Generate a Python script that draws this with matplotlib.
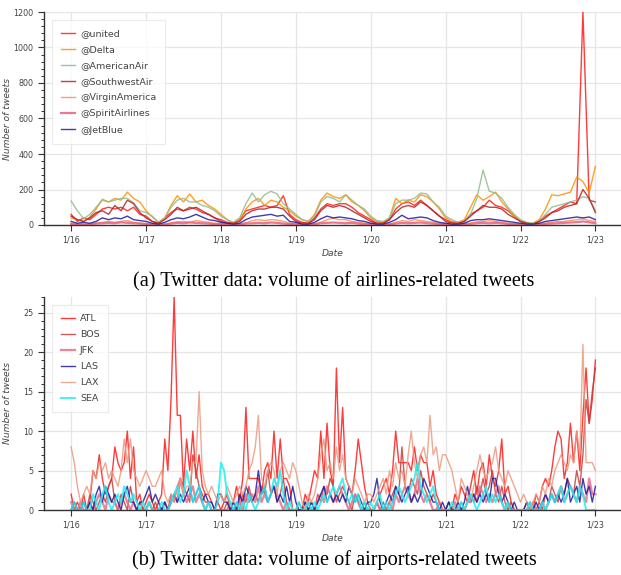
import matplotlib
matplotlib.use("Agg")
import matplotlib.pyplot as plt
from matplotlib.ticker import MultipleLocator, FixedLocator

# ---------------- data ----------------
day_labels = ['1/16', '1/17', '1/18', '1/19', '1/20', '1/21', '1/22', '1/23']

# airlines: 2-hour resolution, 1/16 00:00 .. 1/23 00:00
airline_names = ['@united', '@Delta', '@AmericanAir', '@SouthwestAir',
                 '@VirginAmerica', '@SpiritAirlines', '@JetBlue']

united = [60, 20, 40, 30, 60, 90, 100, 90, 100, 80, 100, 60,
          50, 20, 10, 40, 70, 90, 80, 100, 90, 70, 60, 40,
          30, 15, 10, 30, 80, 90, 100, 110, 100, 110, 165, 60,
          30, 15, 10, 40, 90, 120, 110, 120, 120, 100, 70, 50,
          30, 10, 10, 30, 90, 120, 130, 110, 140, 110, 80, 50,
          30, 15, 10, 20, 60, 80, 100, 140, 110, 100, 80, 50,
          20, 10, 5, 20, 50, 70, 90, 110, 130, 120, 1200, 140,
          130]
delta = [40, 30, 20, 45, 90, 145, 130, 150, 140, 185, 150, 130,
         80, 45, 15, 40, 110, 165, 130, 175, 130, 140, 110, 90,
         60, 30, 10, 25, 90, 130, 150, 110, 140, 130, 100, 80,
         50, 30, 20, 60, 140, 180, 160, 150, 170, 130, 110, 80,
         40, 20, 15, 40, 150, 120, 140, 130, 170, 160, 130, 90,
         40, 20, 15, 30, 100, 170, 140, 160, 185, 130, 90, 50,
         20, 10, 10, 30, 90, 170, 165, 175, 185, 270, 245, 180,
         330]
american = [135, 80, 35, 60, 100, 140, 130, 140, 150, 150, 125, 80,
            70, 50, 15, 40, 100, 140, 150, 130, 130, 110, 100, 80,
            50, 30, 15, 40, 120, 180, 130, 170, 190, 175, 120, 90,
            60, 30, 20, 50, 130, 160, 150, 130, 170, 140, 110, 90,
            50, 25, 20, 40, 120, 140, 140, 150, 180, 175, 130, 100,
            50, 30, 15, 25, 60, 150, 310, 190, 180, 150, 100, 60,
            30, 15, 10, 20, 60, 100, 110, 120, 130, 140, 160, 150,
            80]
southwest = [50, 30, 20, 40, 70, 80, 60, 110, 80, 140, 120, 70,
             40, 20, 10, 30, 60, 100, 80, 90, 100, 80, 60, 40,
             20, 10, 10, 20, 60, 80, 90, 90, 100, 100, 90, 50,
             20, 10, 10, 30, 80, 110, 100, 110, 100, 80, 60, 40,
             20, 10, 10, 30, 70, 100, 110, 100, 130, 110, 80, 50,
             20, 10, 10, 20, 50, 80, 110, 100, 100, 90, 60, 40,
             20, 10, 5, 20, 40, 70, 80, 100, 110, 120, 200, 150,
             70]
virgin = [10, 5, 5, 5, 10, 15, 20, 15, 20, 25, 15, 10,
          8, 5, 3, 5, 12, 18, 20, 15, 25, 20, 15, 10,
          8, 5, 3, 5, 12, 25, 30, 25, 30, 28, 20, 10,
          8, 5, 3, 8, 15, 30, 38, 30, 30, 20, 15, 10,
          8, 5, 3, 5, 15, 25, 20, 30, 25, 20, 15, 8,
          6, 4, 3, 5, 12, 18, 20, 25, 20, 15, 10, 8,
          5, 3, 2, 5, 10, 15, 20, 20, 25, 30, 35, 25,
          20]
spirit = [5, 3, 2, 3, 8, 10, 12, 10, 15, 12, 10, 8,
          5, 3, 2, 3, 8, 12, 10, 14, 12, 10, 8, 5,
          4, 2, 2, 3, 8, 10, 12, 10, 14, 12, 8, 5,
          4, 2, 2, 3, 10, 12, 14, 12, 10, 12, 8, 5,
          4, 2, 2, 3, 8, 12, 10, 12, 14, 10, 8, 5,
          4, 2, 2, 3, 6, 10, 12, 10, 12, 10, 6, 4,
          3, 2, 2, 3, 6, 8, 10, 12, 14, 16, 20, 15,
          10]
jetblue = [20, 10, 15, 10, 20, 40, 30, 40, 35, 50, 30, 25,
           20, 10, 5, 15, 30, 40, 35, 45, 60, 45, 30, 25,
           15, 10, 5, 10, 30, 45, 50, 55, 60, 50, 55, 20,
           15, 5, 5, 15, 35, 50, 40, 45, 40, 35, 25, 20,
           10, 5, 5, 15, 30, 55, 35, 40, 45, 40, 25, 15,
           10, 5, 5, 10, 25, 30, 30, 35, 30, 25, 20, 15,
           10, 5, 5, 10, 20, 25, 30, 35, 40, 45, 40, 45,
           30]

# airports: hourly, 1/16 00:00 .. 1/23 00:00
airport_names = ['ATL', 'BOS', 'JFK', 'LAS', 'LAX', 'SEA']

atl = [2, 0, 1, 0, 2, 0, 1, 5, 4, 7, 4, 2, 3, 4, 8, 6, 5, 6, 10, 4, 8, 1, 2, 0,
       1, 2, 1, 0, 1, 2, 9, 5, 14, 27, 12, 12, 3, 9, 5, 10, 4, 7, 3, 2, 2, 1, 0, 1,
       0, 1, 2, 0, 1, 3, 1, 4, 13, 4, 4, 4, 4, 2, 5, 6, 4, 10, 4, 9, 4, 4, 3, 0,
       0, 1, 0, 2, 1, 3, 5, 4, 10, 4, 11, 5, 3, 18, 6, 13, 4, 3, 2, 5, 9, 6, 3, 1,
       0, 0, 1, 2, 3, 4, 2, 5, 10, 6, 6, 6, 6, 5, 8, 5, 7, 6, 6, 3, 5, 2, 1, 0,
       0, 1, 0, 2, 1, 3, 2, 1, 3, 5, 2, 5, 6, 3, 7, 4, 3, 5, 9, 2, 3, 1, 0, 0,
       0, 0, 1, 0, 0, 2, 1, 3, 4, 3, 5, 8, 10, 9, 4, 6, 11, 6, 10, 5, 12, 18, 11, 14,
       19]
bos = [0, 1, 0, 0, 1, 0, 2, 1, 0, 1, 2, 1, 3, 4, 1, 0, 2, 1, 0, 3, 1, 0, 1, 0,
       0, 1, 0, 1, 0, 0, 1, 0, 2, 1, 3, 4, 3, 2, 1, 7, 5, 3, 2, 1, 1, 0, 0, 0,
       0, 0, 1, 0, 0, 1, 0, 2, 1, 3, 1, 2, 1, 3, 2, 5, 2, 3, 1, 2, 4, 1, 0, 0,
       0, 0, 0, 1, 0, 1, 0, 2, 1, 3, 2, 4, 3, 1, 2, 3, 2, 1, 0, 2, 1, 0, 1, 0,
       0, 0, 1, 0, 1, 0, 1, 2, 3, 2, 8, 3, 2, 4, 3, 2, 5, 3, 2, 1, 2, 1, 0, 0,
       0, 1, 0, 0, 0, 1, 0, 1, 2, 1, 3, 2, 4, 2, 3, 5, 2, 1, 3, 1, 0, 1, 0, 0,
       0, 0, 0, 1, 0, 0, 1, 0, 2, 1, 3, 2, 1, 3, 2, 4, 3, 2, 5, 3, 7, 14, 11, 15,
       18]
jfk = [1, 0, 0, 1, 0, 0, 1, 0, 1, 2, 1, 0, 2, 1, 1, 0, 1, 2, 1, 0, 1, 0, 0, 0,
       0, 1, 0, 0, 0, 0, 1, 0, 1, 2, 1, 4, 2, 1, 2, 3, 1, 2, 1, 0, 1, 0, 0, 0,
       0, 0, 0, 1, 0, 0, 1, 0, 2, 1, 2, 1, 3, 1, 2, 1, 2, 3, 2, 1, 0, 1, 0, 0,
       0, 0, 0, 0, 1, 0, 0, 1, 2, 1, 3, 2, 1, 2, 3, 2, 1, 0, 1, 2, 1, 0, 0, 0,
       0, 0, 1, 0, 0, 0, 1, 0, 2, 1, 2, 3, 2, 1, 2, 4, 2, 1, 2, 1, 0, 0, 1, 0,
       0, 0, 0, 1, 0, 0, 0, 1, 1, 2, 1, 3, 2, 1, 2, 1, 2, 3, 1, 0, 1, 0, 0, 0,
       0, 0, 0, 0, 1, 0, 0, 1, 0, 1, 2, 1, 2, 3, 1, 2, 3, 2, 1, 3, 2, 1, 4, 2,
       2]
las = [0, 1, 0, 0, 1, 0, 1, 0, 2, 3, 1, 3, 2, 1, 2, 1, 0, 2, 3, 1, 1, 0, 1, 1,
       2, 3, 1, 2, 1, 0, 1, 0, 1, 2, 1, 2, 1, 2, 3, 1, 2, 3, 1, 2, 1, 1, 0, 2,
       2, 1, 1, 0, 1, 0, 2, 1, 3, 2, 1, 2, 5, 2, 3, 1, 2, 3, 1, 2, 1, 3, 1, 3,
       1, 0, 0, 1, 0, 1, 0, 1, 2, 3, 1, 2, 1, 2, 1, 2, 1, 3, 2, 1, 2, 1, 0, 1,
       1, 2, 4, 1, 0, 1, 2, 1, 3, 2, 1, 2, 3, 1, 2, 1, 2, 4, 3, 2, 1, 1, 0, 1,
       0, 1, 0, 0, 1, 0, 1, 3, 1, 2, 1, 2, 1, 2, 1, 4, 4, 2, 1, 2, 1, 0, 1, 0,
       0, 0, 1, 0, 0, 1, 0, 1, 2, 1, 2, 1, 2, 1, 2, 4, 1, 2, 3, 1, 4, 2, 3, 1,
       3]
lax = [8, 6, 3, 1, 2, 3, 2, 5, 4, 6, 5, 6, 4, 5, 4, 3, 5, 9, 6, 9, 5, 4, 3, 4,
       5, 4, 3, 3, 4, 5, 2, 1, 2, 1, 3, 4, 2, 3, 3, 6, 6, 15, 5, 3, 2, 3, 2, 1,
       2, 1, 3, 2, 1, 2, 3, 2, 3, 5, 6, 8, 12, 4, 3, 5, 6, 5, 2, 5, 6, 5, 4, 6,
       5, 3, 1, 0, 2, 1, 2, 4, 7, 9, 5, 6, 4, 8, 5, 7, 4, 3, 2, 4, 3, 2, 1, 2,
       2, 1, 2, 3, 4, 2, 5, 3, 6, 4, 5, 3, 7, 10, 6, 4, 7, 8, 6, 12, 7, 8, 5, 7,
       7, 6, 5, 3, 1, 4, 3, 2, 1, 3, 5, 7, 5, 4, 5, 6, 8, 5, 4, 3, 5, 4, 3, 2,
       1, 2, 1, 0, 1, 2, 1, 3, 2, 4, 3, 5, 6, 7, 6, 5, 7, 6, 10, 7, 21, 6, 6, 6,
       5]
sea = [0, 1, 0, 0, 1, 0, 0, 2, 1, 0, 2, 3, 1, 0, 1, 2, 1, 3, 2, 1, 2, 1, 0, 1,
       0, 1, 0, 0, 0, 1, 0, 0, 1, 2, 3, 1, 2, 5, 3, 1, 2, 3, 1, 0, 1, 0, 0, 1,
       6, 5, 2, 1, 0, 1, 0, 1, 0, 2, 1, 0, 1, 2, 3, 1, 2, 4, 3, 5, 2, 0, 1, 0,
       0, 1, 0, 0, 1, 0, 1, 0, 1, 2, 1, 2, 3, 2, 3, 4, 2, 1, 2, 1, 2, 0, 1, 0,
       1, 0, 1, 2, 0, 1, 0, 1, 2, 3, 2, 1, 2, 3, 4, 6, 3, 2, 1, 2, 3, 1, 0, 0,
       0, 0, 1, 0, 0, 1, 0, 1, 2, 1, 0, 1, 2, 3, 1, 2, 1, 2, 1, 0, 1, 0, 0, 0,
       0, 0, 0, 1, 0, 0, 0, 1, 0, 1, 2, 1, 2, 3, 1, 2, 3, 2, 1, 3, 2, 0, 0, 0,
       0]

# ---------------- styling ----------------
airline_series = [united, delta, american, southwest, virgin, spirit, jetblue]
airline_colors = ['#ff1a1a', '#ff9000', '#8fbc8f', '#b22222', '#ff8c5a', '#e8607a', '#1c1ca0']
airline_lw = [1.0, 1.0, 1.0, 1.0, 1.0, 1.6, 1.0]

airport_series = [atl, bos, jfk, las, lax, sea]
airport_colors = ['#ff1a1a', '#c83c3c', '#e8708a', '#1c1ca0', '#eb9a80', '#20f0f0']
airport_lw = [1.0, 1.0, 1.6, 1.0, 1.0, 1.4]

W, H = 621, 575
fig = plt.figure(figsize=(W / 100, H / 100), dpi=100)


def px_axes(left, top, right, bottom):
    return fig.add_axes([left / W, 1 - bottom / H, (right - left) / W, (bottom - top) / H])


def style(ax, ymax, ymajor, yminor):
    for s in ['top', 'right']:
        ax.spines[s].set_visible(False)
    for s in ['left', 'bottom']:
        ax.spines[s].set_color('#333333')
        ax.spines[s].set_linewidth(1.0)
    ax.set_xlim(-8.7, 176.2)
    ax.set_ylim(0, ymax)
    ax.xaxis.set_major_locator(FixedLocator([24 * i for i in range(len(day_labels))]))
    ax.set_xticklabels(day_labels)
    ax.yaxis.set_major_locator(MultipleLocator(ymajor))
    ax.yaxis.set_minor_locator(MultipleLocator(yminor))
    ax.tick_params(axis='both', which='major', direction='out', length=4.5, width=0.8,
                   color='#333333', labelsize=5.8, labelcolor='#444444', pad=3)
    ax.tick_params(axis='y', which='minor', direction='out', length=2.5, width=0.7, color='#333333')
    ax.grid(True, which='major', color='#e6e6e6', linewidth=0.9)
    ax.set_axisbelow(True)
    ax.set_ylabel('Number of tweets', fontsize=6.6, style='italic', color='#444444')
    ax.yaxis.set_label_coords(-0.055, 0.5)
    ax.set_xlabel('Date', fontsize=6.6, style='italic', color='#444444', labelpad=3)


def legend(ax):
    leg = ax.legend(loc='upper left', bbox_to_anchor=(0.0139, 0.962), borderaxespad=0,
                    fontsize=6.8, frameon=True, fancybox=False, edgecolor='#e6e6e6',
                    handlelength=1.5, handletextpad=0.5, labelspacing=0.75, borderpad=0.95)
    leg.get_frame().set_linewidth(0.8)
    for t in leg.get_texts():
        t.set_color('#444444')


# top: airlines
ax1 = px_axes(44, 12, 621, 225)
x_air = list(range(0, 169, 2))
for name, ys, c, lw in zip(airline_names, airline_series, airline_colors, airline_lw):
    ax1.plot(x_air, ys, color=c, lw=lw, alpha=0.85, label=name)
style(ax1, 1200, 200, 40)
legend(ax1)

# bottom: airports
ax2 = px_axes(44, 297, 621, 510)
x_port = list(range(169))
for name, ys, c, lw in zip(airport_names, airport_series, airport_colors, airport_lw):
    ax2.plot(x_port, ys, color=c, lw=lw, alpha=0.85, label=name)
style(ax2, 27, 5, 1)
legend(ax2)

# captions
fig.text(334 / W, 1 - 282 / H, '(a) Twitter data: volume of airlines-related tweets',
         ha='center', va='center', fontsize=14.6, family='Liberation Serif')
fig.text(334 / W, 1 - 560 / H, '(b) Twitter data: volume of airports-related tweets',
         ha='center', va='center', fontsize=14.6, family='Liberation Serif')

fig.savefig('out.png', dpi=100)
